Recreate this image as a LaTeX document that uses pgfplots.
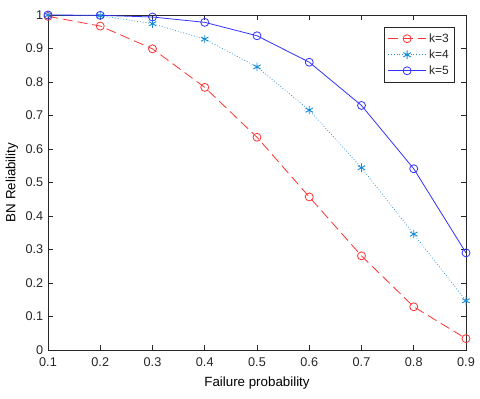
\documentclass[border=0pt]{standalone}
\usepackage{fontspec}
\setmainfont{Liberation Sans}
\usepackage{pgfplots}
\pgfplotsset{compat=1.18}
\definecolor{txt}{rgb}{0.15,0.15,0.15}
\definecolor{cthree}{rgb}{1,0.2,0.2}
\definecolor{cfour}{rgb}{0.1,0.55,0.85}
\definecolor{cfive}{rgb}{0.2,0.2,1}
\begin{document}
\begin{tikzpicture}
\begin{axis}[
  scale only axis,
  width=313.5pt, height=251.25pt,
  xmin=0.1, xmax=0.9, ymin=0, ymax=1,
  xtick={0.1,0.2,0.3,0.4,0.5,0.6,0.7,0.8,0.9},
  xticklabels={0.1,0.2,0.3,0.4,0.5,0.6,0.7,0.8,0.9},
  ytick={0,0.1,0.2,0.3,0.4,0.5,0.6,0.7,0.8,0.9,1},
  yticklabels={0,0.1,0.2,0.3,0.4,0.5,0.6,0.7,0.8,0.9,1},
  xtick pos=both, ytick pos=both, tick align=inside,
  major tick length=4pt,
  axis line style={txt, line width=0.5pt},
  every tick/.style={txt, line width=0.5pt},
  tick label style={font=\fontsize{9.5}{11}\selectfont, text=txt},
  xticklabel style={yshift=-2.5pt},
  /pgf/number format/assume math mode=true,
  xlabel={Failure probability}, ylabel={BN Reliability},
  label style={font=\fontsize{10.4}{12}\selectfont, text=txt},
  every axis x label/.style={at={(rel axis cs:0.5,0)}, anchor=center, yshift=-24.5pt},
  every axis y label/.style={at={(rel axis cs:0,0.5)}, anchor=center, rotate=90, yshift=27pt},
  legend style={at={(0.974,0.964)}, anchor=north east, draw=txt, line width=0.5pt,
    font=\fontsize{9}{11}\selectfont, text=txt, inner sep=2.5pt, row sep=0pt,
    cells={anchor=west}},
  legend image code/.code={\draw[mark repeat=2,mark phase=2,#1] plot coordinates {(0cm,0cm) (0.5cm,0cm) (1cm,0cm)};},
  clip=false,
]
\addplot[cthree, line width=0.6pt, dash pattern=on 7.5pt off 3.75pt, mark=o, mark size=3pt, mark options={solid}]
coordinates {(0.1,0.996) (0.2,0.967) (0.3,0.899) (0.4,0.784) (0.5,0.635) (0.6,0.457) (0.7,0.281) (0.8,0.129) (0.9,0.034)};
\addlegendentry{k=3}
\addplot[cfour, line width=0.5pt, dash pattern=on 0.6pt off 1.5pt, mark=asterisk, mark size=3.2pt, mark options={solid, line width=0.7pt}]
coordinates {(0.1,1.0) (0.2,0.998) (0.3,0.974) (0.4,0.928) (0.5,0.845) (0.6,0.716) (0.7,0.544) (0.8,0.346) (0.9,0.147)};
\addlegendentry{k=4}
\addplot[cfive, line width=0.6pt, mark=o, mark size=3pt]
coordinates {(0.1,1.0) (0.2,0.999) (0.3,0.994) (0.4,0.978) (0.5,0.938) (0.6,0.859) (0.7,0.730) (0.8,0.541) (0.9,0.290)};
\addlegendentry{k=5}
\end{axis}
\path ([xshift=-36pt,yshift=-36pt]current axis.south west) rectangle ([xshift=10.5pt,yshift=11.25pt]current axis.north east);
\end{tikzpicture}
\end{document}
